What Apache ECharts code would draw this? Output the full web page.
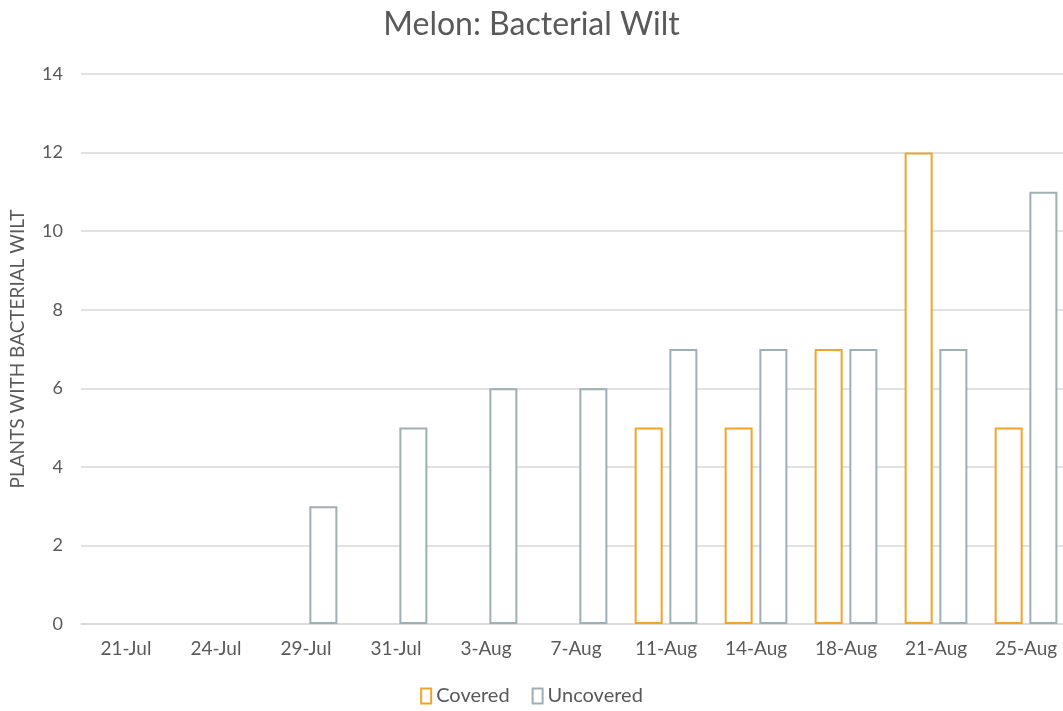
<!DOCTYPE html>
<html>
<head>
<meta charset="utf-8">
<script src="https://cdn.jsdelivr.net/npm/echarts@6/dist/echarts.min.js"></script>
<style>
    html, body { margin: 0; padding: 0; background: #fff; }
    #chart { width: 1063px; height: 711px; }
</style>
</head>
<body>
<div id="chart"></div>
<script>
// dates of the counts
var dates = ['21-Jul', '24-Jul', '29-Jul', '31-Jul', '3-Aug', '7-Aug', '11-Aug', '14-Aug', '18-Aug', '21-Aug', '25-Aug'];
// plants with bacterial wilt
var covered = [0, 0, 0, 0, 0, 0, 5, 5, 7, 12, 5];
var uncovered = [0, 0, 3, 5, 6, 6, 7, 7, 7, 7, 11];
var yTicks = [0, 2, 4, 6, 8, 10, 12, 14];

var textColor = '#595959';
var fontName = 'Lato';

// empty bars would leave a coloured line on the axis, so hide the zeros
function hideZero(v) {
    return v === 0 ? '-' : v;
}

var myChart = echarts.init(document.getElementById('chart'));
myChart.setOption({
    animation: false,
    textStyle: { fontFamily: fontName },
    title: {
        text: 'Melon: Bacterial Wilt',
        left: 'center',
        top: 4,
        textStyle: { color: textColor, fontSize: 32, fontWeight: 'normal', fontFamily: fontName }
    },
    legend: {
        bottom: 0,
        left: 'center',
        itemWidth: 10,
        itemHeight: 15,
        itemGap: 22,
        textStyle: { color: textColor, fontSize: 20, fontFamily: fontName },
        data: [
            { name: 'Covered', icon: 'rect' },
            { name: 'Uncovered', icon: 'rect' }
        ]
    },
    grid: {
        left: 81,
        top: 74,
        bottom: 87,
        width: 990,
        containLabel: false,
        outerBoundsMode: 'none'
    },
    xAxis: {
        type: 'category',
        data: dates,
        axisTick: { show: false },
        axisLine: { lineStyle: { color: '#d9d9d9', width: 1.5 } },
        axisLabel: { color: textColor, fontSize: 19, margin: 15, interval: 0 }
    },
    yAxis: {
        type: 'value',
        min: yTicks[0],
        max: yTicks[yTicks.length - 1],
        interval: 2,
        name: 'PLANTS WITH BACTERIAL WILT',
        nameLocation: 'middle',
        nameGap: 54,
        nameTextStyle: { color: textColor, fontSize: 19 },
        axisLine: { show: false },
        axisTick: { show: false },
        axisLabel: { color: textColor, fontSize: 18, margin: 18 },
        splitLine: { lineStyle: { color: '#d9d9d9', width: 1.5 } }
    },
    series: [{
        name: 'Covered',
        type: 'bar',
        barWidth: 28,
        barGap: '24%',
        data: covered.map(hideZero),
        itemStyle: { color: '#ffffff', borderColor: '#f2a42a', borderWidth: 2 }
    }, {
        name: 'Uncovered',
        type: 'bar',
        barWidth: 28,
        barGap: '24%',
        data: uncovered.map(hideZero),
        itemStyle: { color: '#ffffff', borderColor: '#9eafb5', borderWidth: 2 }
    }]
});
</script>
</body>
</html>
